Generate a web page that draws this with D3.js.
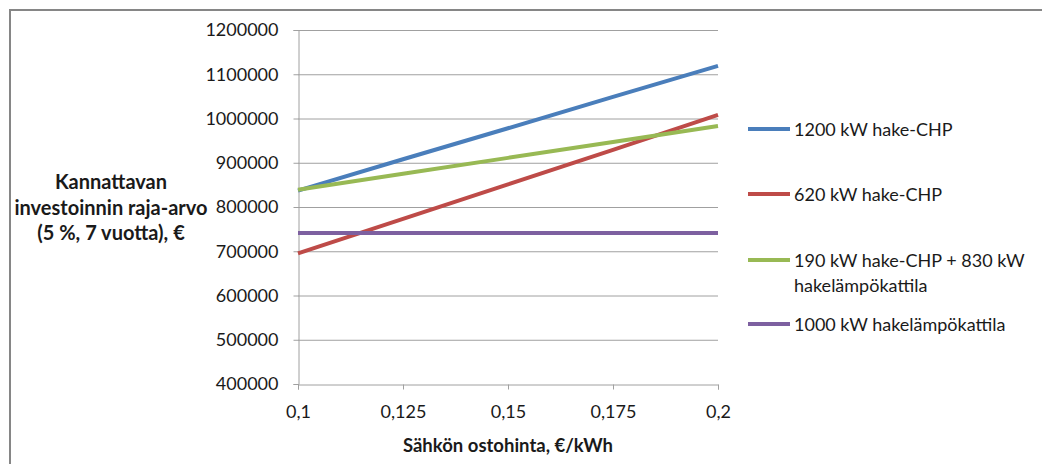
<!DOCTYPE html>
<html>
<head>
<meta charset="utf-8">
<script src="https://cdn.jsdelivr.net/npm/d3@7"></script>
<style>
  html, body { margin: 0; padding: 0; background: #fff; }
  text { font-family: Lato, "Open Sans", sans-serif; fill: #1a1a1a; }
</style>
</head>
<body>
<script>
// electricity purchase price, €/kWh
const prices = [0.1, 0.125, 0.15, 0.175, 0.2]
const seriesNames = [
  "1200 kW hake-CHP",
  "620 kW hake-CHP",
  "190 kW hake-CHP + 830 kW hakelämpökattila",
  "1000 kW hakelämpökattila"
]
const chp1200 = [837000, 908000, 978000, 1049000, 1119000]
const chp620 = [695000, 773000, 851000, 929000, 1008000]
const chp190 = [839000, 875000, 911000, 947000, 983000]
const boiler1000 = [741000, 741000, 741000, 741000, 741000]
const xTicks = [0.1, 0.125, 0.15, 0.175, 0.2]
const yTicks = [400000, 500000, 600000, 700000, 800000, 900000, 1000000, 1100000, 1200000]
const colors = ["#4a7ebb", "#be4b48", "#98b954", "#7d60a0"]

const width = 1042, height = 464
const marginLeft = 298, plotRight = 718, marginTop = 30, plotBottom = 384

const series = [chp1200, chp620, chp190, boiler1000]

const svg = d3.select("body").append("svg")
    .attr("width", width)
    .attr("height", height)

// chart border (runs off the picture right and bottom)
svg.append("rect")
    .attr("x", 10).attr("y", 10)
    .attr("width", 1100).attr("height", 500)
    .attr("fill", "none")
    .attr("stroke", "#868686")
    .attr("stroke-width", 2)

const x = d3.scaleLinear([0.1, 0.2], [marginLeft, plotRight])
const y = d3.scaleLinear([400000, 1200000], [plotBottom, marginTop])

// gridlines
svg.append("g")
  .selectAll("line")
  .data(yTicks.slice(1))
  .join("line")
    .attr("x1", marginLeft).attr("x2", plotRight)
    .attr("y1", d => y(d) + 0.5).attr("y2", d => y(d) + 0.5)
    .attr("stroke", "#a0a0a0")

// y axis
svg.append("g")
    .attr("transform", `translate(${marginLeft + 0.5},0)`)
    .call(d3.axisLeft(y).tickValues(yTicks).tickFormat(d => d).tickSize(5).tickPadding(15))
    .call(g => g.select(".domain").attr("stroke", "#a0a0a0"))
    .call(g => g.selectAll(".tick line").attr("stroke", "#a0a0a0"))
    .call(g => g.selectAll(".tick text").attr("font-size", 18).attr("font-family", "Lato, sans-serif").attr("fill", "#1a1a1a"))

// x axis
const fmtX = d => String(d).replace(".", ",")
svg.append("g")
    .attr("transform", `translate(0,${plotBottom + 0.5})`)
    .call(d3.axisBottom(x).tickValues(xTicks).tickFormat(fmtX).tickSize(5).tickPadding(16))
    .call(g => g.select(".domain").attr("stroke", "#a0a0a0"))
    .call(g => g.selectAll(".tick line").attr("stroke", "#a0a0a0"))
    .call(g => g.selectAll(".tick text").attr("font-size", 18).attr("font-family", "Lato, sans-serif").attr("fill", "#1a1a1a"))

// lines
const line = d3.line()
    .x((d, i) => x(prices[i]))
    .y(d => y(d))

svg.append("g")
  .selectAll("path")
  .data(series)
  .join("path")
    .attr("d", line)
    .attr("fill", "none")
    .attr("stroke", (d, i) => colors[i])
    .attr("stroke-width", 4)

// axis titles
svg.append("text")
    .attr("x", 508).attr("y", 452)
    .attr("text-anchor", "middle")
    .attr("font-size", 18.5)
    .attr("font-weight", "bold")
    .text("Sähkön ostohinta, €/kWh")

const yTitle = ["Kannattavan", "investoinnin raja-arvo", "(5 %, 7 vuotta), €"]
svg.append("text")
    .attr("text-anchor", "middle")
    .attr("font-size", 20)
    .attr("font-weight", "bold")
  .selectAll("tspan")
  .data(yTitle)
  .join("tspan")
    .attr("x", 111)
    .attr("y", (d, i) => 189 + i * 25.5)
    .text(d => d)

// legend
const legendRows = [[seriesNames[0]], [seriesNames[1]], ["190 kW hake-CHP + 830 kW", "hakelämpökattila"], [seriesNames[3]]]
const legendY = [129, 194, 260, 324]
const legend = svg.append("g")
  .selectAll("g")
  .data(legendRows)
  .join("g")
    .attr("transform", (d, i) => `translate(748,${legendY[i]})`)

legend.append("line")
    .attr("x1", 0).attr("x2", 42)
    .attr("stroke", (d, i) => colors[i])
    .attr("stroke-width", 4)

legend.append("text")
    .attr("font-size", 18)
  .selectAll("tspan")
  .data(d => d)
  .join("tspan")
    .attr("x", 46)
    .attr("y", (d, i) => 6.5 + i * 25)
    .text(d => d)
</script>
</body>
</html>
